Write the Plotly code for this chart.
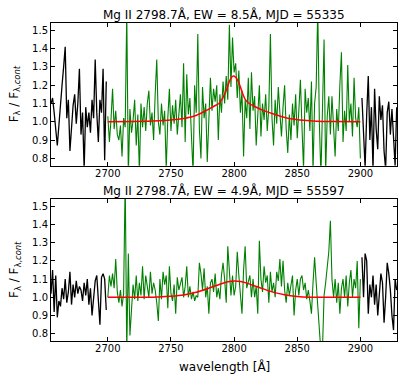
import numpy as np
import plotly.graph_objects as go

# ---------------- data ----------------
WAVE_START = 2655.0   # first pixel wavelength [A]
WAVE_STEP = 1.25      # pixel spacing [A]
FIT_LO, FIT_HI = 2700.0, 2900.0

titles = ["Mg II 2798.7Å, EW = 8.5Å, MJD = 55335",
          "Mg II 2798.7Å, EW = 4.9Å, MJD = 55597"]

flux_55335 = [
    1.10, 1.13, 1.05, 0.95, 0.87, 0.98, 1.11, 1.20, 1.30, 1.41,
    1.02, 1.12, 0.84, 0.96, 1.09, 1.15, 0.99, 1.10, 1.29, 0.93,
    1.05, 0.74, 1.08, 0.97, 1.05, 0.94, 1.12, 1.02, 1.34, 1.05,
    0.89, 1.12, 1.05, 1.29, 0.79, 1.22,
    1.03, 0.89, 1.01, 1.18, 0.96, 1.06, 0.93, 0.90, 0.98, 0.81,
    1.02, 0.97, 1.60, 0.70, 1.07, 0.94, 1.01, 1.12, 0.87, 1.04,
    0.72, 1.10, 0.97, 1.08, 0.95, 1.10, 1.17, 0.98, 1.05, 0.90,
    1.15, 1.34, 1.00, 0.93, 1.10, 0.98, 1.06, 0.74, 1.02, 1.18,
    0.95, 1.09, 0.99, 1.12, 0.93, 1.05, 1.15, 0.97, 1.32, 0.89,
    1.26, 1.04, 1.13, 0.92, 0.72, 1.20, 1.05, 1.48, 0.96, 0.80,
    1.19, 1.02, 1.10, 0.78, 1.07, 1.24, 1.06, 1.18, 1.11, 1.20,
    0.90, 1.15, 1.05, 1.22, 1.10, 1.25, 1.12, 1.53, 1.19, 1.46,
    1.27, 1.32, 1.13, 1.28, 1.05, 1.17, 0.81, 1.12, 1.02, 1.24,
    0.96, 1.27, 1.06, 1.14, 0.87, 1.05, 1.20, 0.92, 1.10, 1.01,
    1.15, 0.95, 1.08, 1.48, 1.02, 0.87, 1.12, 0.99, 1.19, 1.05,
    0.92, 1.08, 1.20, 0.96, 0.83, 1.04, 0.90, 1.10, 0.98, 1.15,
    0.91, 1.06, 1.23, 0.97, 0.74, 1.18, 1.05, 1.13, 0.95, 1.22,
    0.73, 1.10, 1.19, 1.62, 1.00, 0.70, 1.15, 1.45, 0.72, 1.03,
    1.14, 0.93, 1.14, 0.98, 0.81, 1.07, 0.95, 1.20, 1.38, 0.89,
    1.06, 0.95, 1.31, 1.00, 1.10, 0.92, 1.24, 1.02, 0.97, 1.08,
    0.80,
    1.13, 0.93, 0.75, 1.04, 1.25, 0.90, 1.08, 0.74, 1.18, 0.96,
    0.85, 1.14, 1.01, 1.09, 0.84, 0.74, 1.05, 1.11, 0.93, 1.07,
    0.88, 0.76, 1.08,
]

flux_55597 = [
    1.02, 1.15, 0.92, 1.12, 0.89, 0.98, 0.95, 1.05, 0.99, 1.10,
    0.97, 1.03, 1.14, 0.96, 1.07, 1.00, 1.09, 1.02, 1.06, 1.04,
    0.98, 1.08, 1.01, 1.10, 0.96, 1.05, 0.90, 1.02, 1.09, 1.12,
    0.97, 0.85, 1.11, 1.13, 1.10, 0.93,
    1.00, 1.12, 1.06, 1.13, 1.05, 1.21, 1.03, 0.97, 1.04, 0.95,
    1.02, 1.65, 0.70, 1.24, 0.79, 0.95, 1.07, 0.99, 1.12, 0.98,
    1.08, 1.01, 1.17, 0.99, 1.12, 1.06, 1.00, 1.14, 1.02, 1.08,
    1.04, 0.97, 0.87, 1.10, 0.99, 1.14, 1.07, 1.12, 0.94, 1.17,
    1.02, 0.98, 1.07, 0.91, 1.11, 1.04, 1.08, 1.11, 1.00, 1.06,
    1.17, 1.00, 1.06, 0.99, 1.03, 0.98, 1.01, 1.00, 1.19, 1.13,
    1.04, 1.16, 1.00, 1.06, 0.91, 1.08, 1.10, 1.03, 1.13, 1.00,
    1.05, 0.99, 1.12, 1.19, 1.10, 0.97, 1.28, 1.12, 1.01, 1.12,
    1.01, 1.06, 1.25, 1.12, 1.00, 0.91, 1.15, 1.28, 1.05, 1.09,
    1.12, 1.00, 1.10, 1.00, 1.06, 0.91, 1.31, 1.10, 1.03, 1.17,
    1.08, 1.12, 0.97, 1.14, 1.03, 1.08, 1.00, 1.14, 1.09, 1.21,
    1.06, 1.20, 1.04, 0.97, 1.08, 1.01, 1.06, 1.12, 0.90, 1.04,
    1.10, 1.01, 1.10, 1.12, 1.04, 1.08, 0.99, 1.04, 0.98, 0.91,
    1.08, 1.22, 1.08, 0.92, 0.83, 0.70, 0.72, 1.01, 1.08, 1.17,
    1.25, 1.42, 1.10, 1.00, 1.10, 0.97, 1.08, 0.91, 1.05, 1.10,
    1.00, 1.12, 0.95, 1.08, 1.15, 1.00, 1.10, 1.05, 1.20, 0.83,
    1.10,
    1.22, 1.00, 1.24, 1.20, 0.91, 1.07, 1.00, 1.12, 0.96, 1.07,
    0.90, 1.03, 1.13, 1.08, 0.86, 1.00, 1.19, 1.13, 1.04, 0.90,
    0.82, 1.10, 1.04,
]

fit_wave_55335 = [2700, 2720, 2740, 2750, 2760, 2768, 2776, 2784, 2788, 2791,
                  2794, 2796, 2798, 2799.5, 2801, 2803, 2805, 2807, 2809, 2812,
                  2816, 2822, 2830, 2838, 2846, 2855, 2865, 2880, 2900]
fit_flux_55335 = [1.000, 1.001, 1.005, 1.010, 1.018, 1.030, 1.055, 1.085, 1.100, 1.130,
                  1.175, 1.215, 1.243, 1.250, 1.245, 1.225, 1.190, 1.150, 1.120, 1.100,
                  1.085, 1.065, 1.045, 1.028, 1.015, 1.008, 1.003, 1.001, 1.000]

fit_wave_55597 = [2700, 2730, 2740, 2750, 2760, 2770, 2780, 2790, 2795, 2800,
                  2805, 2810, 2820, 2830, 2840, 2850, 2860, 2880, 2900]
fit_flux_55597 = [1.000, 1.000, 1.002, 1.006, 1.013, 1.028, 1.050, 1.075, 1.085, 1.090,
                  1.087, 1.078, 1.054, 1.030, 1.014, 1.005, 1.001, 1.000, 1.000]

x_ticks = [2700, 2750, 2800, 2850, 2900]
y_ticks = [0.8, 0.9, 1.0, 1.1, 1.2, 1.3, 1.4, 1.5]
X_RANGE = [2655, 2929]
Y_RANGE = [0.76, 1.54]

# ---------------- figure ----------------
fig = go.Figure()


def split(flux):
    wave = WAVE_START + WAVE_STEP * np.arange(len(flux))
    bx, by, gx, gy = [], [], [], []
    gap_done = False
    for w, f in zip(wave, flux):
        if FIT_LO <= w <= FIT_HI:
            gx.append(w); gy.append(f)
            if not gap_done:
                bx.append(None); by.append(None); gap_done = True
        else:
            bx.append(w); by.append(f)
    return bx, by, gx, gy


panels = [(flux_55335, fit_wave_55335, fit_flux_55335, "x", "y"),
          (flux_55597, fit_wave_55597, fit_flux_55597, "x2", "y2")]

for flux, fw, ff, xa, ya in panels:
    bx, by, gx, gy = split(flux)
    fig.add_trace(go.Scatter(x=bx, y=by, mode="lines", xaxis=xa, yaxis=ya,
                             line=dict(color="black", width=1.3),
                             connectgaps=False, showlegend=False, hoverinfo="skip"))
    fig.add_trace(go.Scatter(x=gx, y=gy, mode="lines", xaxis=xa, yaxis=ya,
                             line=dict(color="#008000", width=1.1),
                             showlegend=False, hoverinfo="skip"))
    fig.add_trace(go.Scatter(x=fw, y=ff, mode="lines", xaxis=xa, yaxis=ya,
                             line=dict(color="#ff0000", width=1.5, shape="spline", smoothing=0.6),
                             showlegend=False, hoverinfo="skip"))

axis_common = dict(showline=True, linecolor="black", linewidth=1, mirror="ticks",
                   ticks="inside", ticklen=4, tickwidth=1, tickcolor="black",
                   showgrid=False, zeroline=False,
                   tickfont=dict(family="DejaVu Sans", size=10, color="black"))

top_dom = [0.5513, 1.0]
bot_dom = [0.0, 0.4465]

fig.update_layout(
    width=407, height=382,
    margin=dict(l=51, r=10, t=23, b=41),
    paper_bgcolor="white", plot_bgcolor="white",
    xaxis=dict(domain=[0, 1], range=X_RANGE, anchor="y", tickvals=x_ticks,
               ticklabelstandoff=-2, **axis_common),
    yaxis=dict(domain=top_dom, range=Y_RANGE, anchor="x", tickvals=y_ticks,
               tickformat=".1f", **axis_common),
    xaxis2=dict(domain=[0, 1], range=X_RANGE, anchor="y2", tickvals=x_ticks,
                ticklabelstandoff=-2, **axis_common),
    yaxis2=dict(domain=bot_dom, range=Y_RANGE, anchor="x2", tickvals=y_ticks,
                tickformat=".1f", **axis_common),
)

label_font = dict(family="DejaVu Sans", size=12, color="black")
ylab = "F<sub>λ</sub> / F<sub>λ,<i>cont</i></sub>"
annotations = [
    dict(text=titles[0], x=0.5, y=1.028, xref="paper", yref="paper",
         xanchor="center", yanchor="middle", showarrow=False, font=label_font),
    dict(text=titles[1], x=0.5, y=0.4748, xref="paper", yref="paper",
         xanchor="center", yanchor="middle", showarrow=False, font=label_font),
    dict(text="wavelength [Å]", x=0.5, y=-0.079, xref="paper", yref="paper",
         xanchor="center", yanchor="middle", showarrow=False, font=label_font),
    dict(text=ylab, x=-0.104, y=(top_dom[0] + top_dom[1]) / 2, xref="paper", yref="paper",
         xanchor="center", yanchor="middle", showarrow=False, textangle=-90, font=label_font),
    dict(text=ylab, x=-0.104, y=(bot_dom[0] + bot_dom[1]) / 2, xref="paper", yref="paper",
         xanchor="center", yanchor="middle", showarrow=False, textangle=-90, font=label_font),
]
fig.update_layout(annotations=annotations)

fig.write_html("out.html",
               config={"displayModeBar": False},
               post_script="document.body.style.margin='0';document.body.style.padding='0';")
